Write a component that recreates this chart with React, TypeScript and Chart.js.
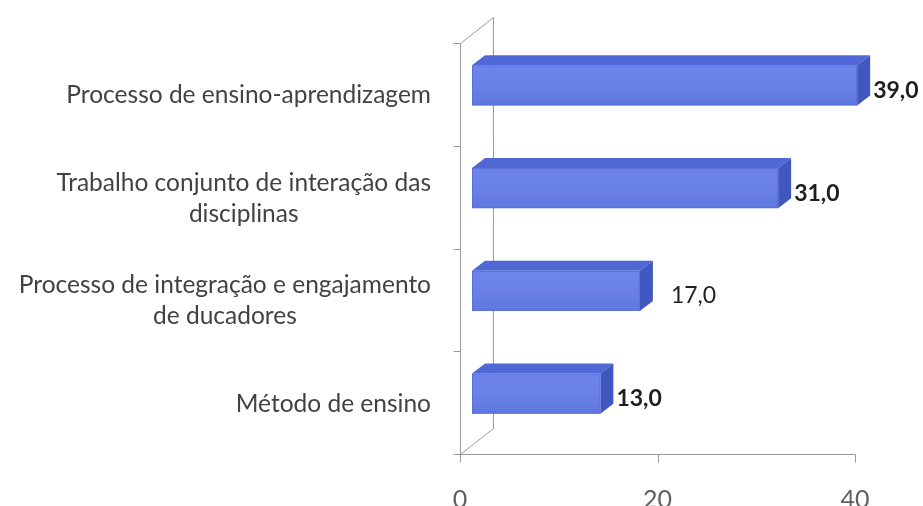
import React, { useEffect, useRef } from "react";
import { Chart, registerables } from "chart.js";

Chart.register(...registerables);

// ---- data ----
const categories: string[][] = [
  ["Processo de ensino-aprendizagem"],
  ["Trabalho conjunto de interação das", "disciplinas"],
  ["Processo de integração e engajamento", "de ducadores"],
  ["Método de ensino"],
];
const values: number[] = [39.0, 31.0, 17.0, 13.0];
const xMin = 0;
const xMax = 40;
const xStep = 20;

// ---- styles ----
const FONT = "Lato, 'Open Sans', sans-serif";
const WALL = { dx: 33, dy: 26 };
const BAR_FRONT = { dx: 12, dy: 9 };
const BAR_DEPTH = { dx: 13, dy: 10 };
const LINE_COLOR = "#9a9a9a";
const labelOverrides: Record<number, { weight: string; gap: number }> = {
  2: { weight: "normal", gap: 18 },
};

const fmt = (v: number) => v.toFixed(1).replace(".", ",");

const threeDPlugin = {
  id: "threeD",
  beforeDatasetsDraw(chart: any) {
    const { ctx, chartArea: a, scales } = chart;
    const x = scales.x;
    const y = scales.y;
    ctx.save();
    ctx.strokeStyle = LINE_COLOR;
    ctx.lineWidth = 1;
    const L = Math.round(a.left) + 0.5;
    const T = Math.round(a.top) + 0.5;
    const B = Math.round(a.bottom) + 0.5;
    ctx.beginPath();
    ctx.moveTo(L, B);
    ctx.lineTo(L, T);
    ctx.lineTo(L + WALL.dx, T - WALL.dy);
    ctx.lineTo(L + WALL.dx, B - WALL.dy);
    ctx.lineTo(L, B);
    ctx.lineTo(Math.round(a.right) + 0.5, B);
    const n = categories.length;
    const band = a.height / n;
    for (let i = 0; i <= n; i++) {
      const yy = Math.round(a.top + i * band) + 0.5;
      ctx.moveTo(L - 7, yy);
      ctx.lineTo(L, yy);
    }
    for (let v = xMin; v <= xMax; v += xStep) {
      const xx = Math.round(x.getPixelForValue(v)) + 0.5;
      ctx.moveTo(xx, B);
      ctx.lineTo(xx, B + 8);
    }
    ctx.stroke();

    // category labels
    ctx.font = `24.5px ${FONT}`;
    ctx.fillStyle = "#424242";
    ctx.textAlign = "center";
    ctx.textBaseline = "middle";
    const right = a.left - 29;
    const lh = 31;
    categories.forEach((lines, i) => {
      const cy = y.getPixelForValue(i);
      const maxW = Math.max(...lines.map((l) => ctx.measureText(l).width));
      const cx = right - maxW / 2;
      lines.forEach((l, j) => {
        ctx.fillText(l, cx, cy + (j - (lines.length - 1) / 2) * lh + 1);
      });
    });
    ctx.restore();
  },
  afterDatasetsDraw(chart: any) {
    const { ctx } = chart;
    const meta = chart.getDatasetMeta(0);
    ctx.save();
    meta.data.forEach((el: any, i: number) => {
      const { x: xe, y: ye, base, height } = el.getProps(["x", "y", "base", "height"], true);
      const x0 = base + BAR_FRONT.dx;
      const x1 = xe + BAR_FRONT.dx;
      const yT = ye - height / 2 - BAR_FRONT.dy;
      const yB = ye + height / 2 - BAR_FRONT.dy;
      // top face
      ctx.fillStyle = "#5068d6";
      ctx.beginPath();
      ctx.moveTo(x0, yT);
      ctx.lineTo(x0 + BAR_DEPTH.dx, yT - BAR_DEPTH.dy);
      ctx.lineTo(x1 + BAR_DEPTH.dx, yT - BAR_DEPTH.dy);
      ctx.lineTo(x1, yT);
      ctx.closePath();
      ctx.fill();
      // side face
      ctx.fillStyle = "#4057bf";
      ctx.beginPath();
      ctx.moveTo(x1, yT);
      ctx.lineTo(x1 + BAR_DEPTH.dx, yT - BAR_DEPTH.dy);
      ctx.lineTo(x1 + BAR_DEPTH.dx, yB - BAR_DEPTH.dy);
      ctx.lineTo(x1, yB);
      ctx.closePath();
      ctx.fill();
      // front face
      const g = ctx.createLinearGradient(0, yT, 0, yB);
      g.addColorStop(0, "#6d84eb");
      g.addColorStop(0.5, "#6880e8");
      g.addColorStop(1, "#5f78e0");
      ctx.fillStyle = g;
      ctx.fillRect(x0, yT, x1 - x0, yB - yT);
      ctx.strokeStyle = "#5a70d8";
      ctx.lineWidth = 1;
      ctx.strokeRect(x0 + 0.5, yT + 0.5, x1 - x0 - 1, yB - yT - 1);

      // value label
      const ov = labelOverrides[i];
      const weight = ov ? ov.weight : "bold";
      const gap = ov ? ov.gap : 3;
      ctx.font = `${weight} 23px ${FONT}`;
      ctx.fillStyle = "#1e1e1e";
      ctx.textAlign = "left";
      ctx.textBaseline = "middle";
      ctx.fillText(fmt(values[i]), x1 + BAR_DEPTH.dx + gap, ye - 4);
    });
    ctx.restore();
  },
};

export default function App() {
  const ref = useRef<HTMLCanvasElement | null>(null);
  useEffect(() => {
    if (!ref.current) return;
    const chart = new Chart(ref.current, {
      type: "bar",
      data: {
        labels: categories.map((c) => c.join(" ")),
        datasets: [
          {
            data: values,
            backgroundColor: "rgba(0,0,0,0)",
            borderWidth: 0,
            barPercentage: 0.39,
            categoryPercentage: 1,
          },
        ],
      },
      options: {
        indexAxis: "y",
        animation: false,
        responsive: false,
        events: [],
        layout: { padding: { left: 460, right: 68, top: 43, bottom: 0 } },
        plugins: { legend: { display: false }, tooltip: { enabled: false }, title: { display: false } },
        scales: {
          x: {
            min: xMin,
            max: xMax,
            grid: { display: false, drawTicks: false },
            border: { display: false },
            ticks: {
              stepSize: xStep,
              color: "#5f5f5f",
              padding: 31,
              font: { family: FONT, size: 25 },
            },
            afterFit: (scale: any) => {
              scale.height = 52;
            },
          },
          y: { display: false },
        },
      },
      plugins: [threeDPlugin],
    } as any);
    return () => chart.destroy();
  }, []);
  return (
    <div style={{ position: "fixed", left: 0, top: 0, width: 923, height: 506, background: "#fff" }}>
      <canvas ref={ref} width={923} height={506} style={{ display: "block" }} />
    </div>
  );
}
